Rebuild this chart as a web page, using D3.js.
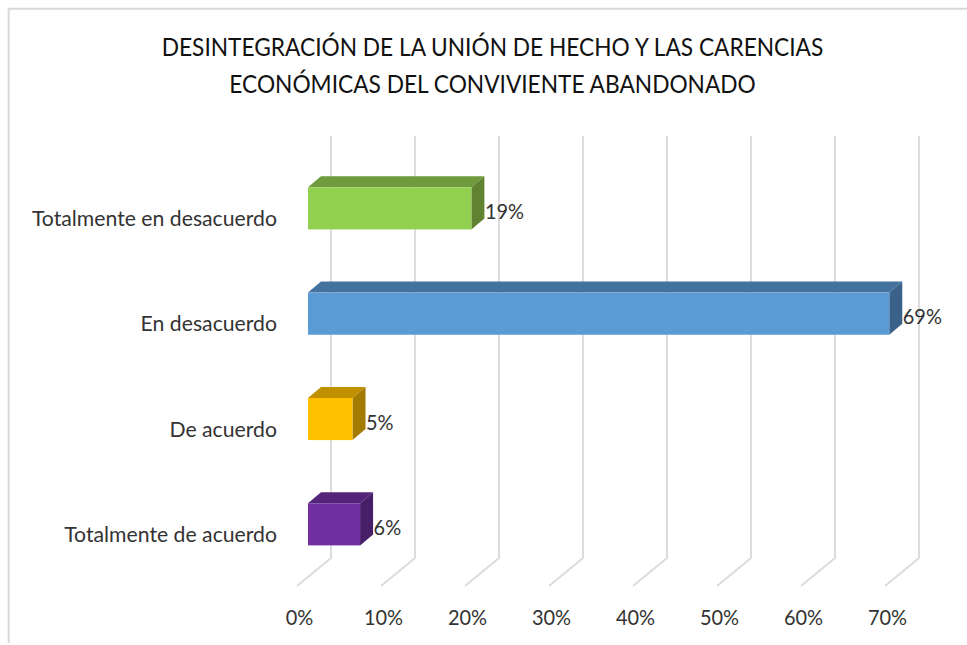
<!DOCTYPE html>
<html><head><meta charset="utf-8">
<script src="https://cdn.jsdelivr.net/npm/d3@7"></script>
<style>html,body{margin:0;padding:0;background:#fff}svg{display:block}text{font-family:Lato,Carlito,sans-serif}</style>
</head><body><svg id="c" width="967" height="645"></svg>
<script>
const titleLines = ["DESINTEGRACIÓN DE LA UNIÓN DE HECHO Y LAS CARENCIAS", "ECONÓMICAS DEL CONVIVIENTE ABANDONADO"];
const categories = ["Totalmente en desacuerdo", "En desacuerdo", "De acuerdo", "Totalmente de acuerdo"];
const values = [19.45, 69.2, 5.3, 6.2];
const labels = ["19%", "69%", "5%", "6%"];
const frontColors = ["#92d050", "#5b9bd5", "#ffc000", "#7030a0"];
const topColors = ["#6f9a3d", "#44729f", "#bf9000", "#54247a"];
const sideColors = ["#5f8330", "#3a6288", "#a37b00", "#471f68"];
const ticks = [0, 10, 20, 30, 40, 50, 60, 70];

const svg = d3.select("#c");
svg.append("path").attr("d", "M8.7,643V8.7H967").attr("fill", "none").attr("stroke", "#d9d9d9").attr("stroke-width", 2);

const x = d3.scaleLinear().domain([0, 70]).range([308, 896]);
const y = d3.scaleBand().domain(categories).range([155.7, 577]).paddingInner(0.6).paddingOuter(0.3);
const gridDx = 23, floorDx = -11, gridTop = 136, gridBottom = 558, floorY = 586;

svg.append("g").selectAll("path").data(ticks).join("path")
  .attr("d", t => `M${x(t)+floorDx},${floorY}L${x(t)+gridDx},${gridBottom}V${gridTop}`)
  .attr("fill", "none").attr("stroke", "#dcdcdc").attr("stroke-width", 2);

// Squeeze the substitute font horizontally to the reference's narrower face
const fit = (sel, f) => sel.each(function () {
  d3.select(this).attr("textLength", this.getComputedTextLength() * f).attr("lengthAdjust", "spacingAndGlyphs");
});

const data = categories.map((c, i) => ({c, i, v: values[i]}));
const dx = 13, dy = 11;
const g = svg.append("g").selectAll("g").data(data).join("g");
g.append("path").attr("fill", d => topColors[d.i])
  .attr("d", d => { const a=x(0), b=x(d.v), t=y(d.c); return `M${a},${t}L${a+dx},${t-dy}H${b+dx}L${b},${t}Z`; });
g.append("path").attr("fill", d => sideColors[d.i])
  .attr("d", d => { const b=x(d.v), t=y(d.c), h=y.bandwidth(); return `M${b},${t}L${b+dx},${t-dy}V${t+h-dy}L${b},${t+h}Z`; });
g.append("rect").attr("fill", d => frontColors[d.i])
  .attr("x", x(0)).attr("y", d => y(d.c)).attr("width", d => x(d.v)-x(0)).attr("height", y.bandwidth());
g.append("text").text(d => labels[d.i]).attr("x", d => x(d.v)+dx+0.5).attr("y", d => y(d.c)+y.bandwidth()/2+10.5)
  .attr("font-size", 21).attr("fill", "#333").call(fit, 0.95);

svg.append("g").selectAll("text").data(categories).join("text").text(d => d)
  .attr("x", 277).attr("y", d => y(d)+y.bandwidth()/2+17.5).attr("text-anchor", "end")
  .attr("font-size", 21).attr("fill", "#333").call(fit, 1.01);
svg.append("g").selectAll("text").data(ticks).join("text").text(t => t + "%")
  .attr("x", t => x(t)-8.5).attr("y", 625).attr("text-anchor", "middle")
  .attr("font-size", 21).attr("fill", "#333").call(fit, 0.95);
svg.append("g").selectAll("text").data(titleLines).join("text").text(d => d)
  .attr("x", 492.5).attr("y", (d, i) => 56 + i*37).attr("text-anchor", "middle")
  .attr("font-size", 25).attr("fill", "#111").call(fit, 0.908);
</script></body></html>
